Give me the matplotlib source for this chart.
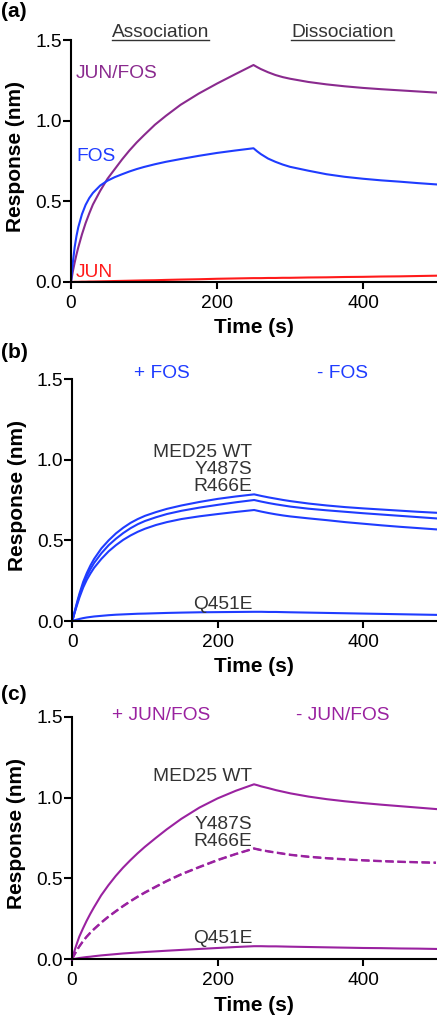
import matplotlib
matplotlib.use("Agg")
import matplotlib.pyplot as plt
from matplotlib.lines import Line2D

plt.rcParams["font.family"] = ["Liberation Sans", "DejaVu Sans"]

# time points (s)
time_s = [0, 2.5, 5, 7.5, 10, 15, 20, 25, 30, 40, 50, 60, 70, 80, 90, 100, 115, 130,
          150, 175, 200, 225, 250,
          255, 260, 270, 280, 290, 300, 325, 350, 375, 400, 425, 450, 475, 500]

# (a) analytes on MED25
jun_fos = [0, 0.065, 0.12, 0.17, 0.215, 0.295, 0.365, 0.425, 0.48, 0.565, 0.64, 0.70,
           0.76, 0.815, 0.865, 0.91, 0.975, 1.03, 1.098, 1.168, 1.23, 1.288, 1.345,
           1.332, 1.32, 1.30, 1.283, 1.27, 1.26, 1.24, 1.225, 1.213, 1.203, 1.195, 1.188,
           1.181, 1.174]
fos = [0, 0.12, 0.215, 0.285, 0.34, 0.42, 0.478, 0.52, 0.552, 0.598, 0.628, 0.65,
       0.668, 0.685, 0.70, 0.713, 0.73, 0.745, 0.762, 0.782, 0.80, 0.815, 0.829,
       0.81, 0.793, 0.765, 0.745, 0.728, 0.714, 0.69, 0.668, 0.652, 0.64, 0.63, 0.622,
       0.613, 0.605]
jun = [0, 0, 0.001, 0.001, 0.001, 0.002, 0.002, 0.003, 0.003, 0.004, 0.005, 0.006,
       0.007, 0.008, 0.009, 0.01, 0.011, 0.013, 0.015, 0.017, 0.02, 0.022, 0.024,
       0.024, 0.024, 0.025, 0.025, 0.026, 0.026, 0.028, 0.029, 0.031, 0.032, 0.034, 0.035,
       0.037, 0.039]

# (b) FOS on MED25 variants
b_wt = [0, 0.046, 0.09, 0.132, 0.172, 0.243, 0.298, 0.345, 0.385, 0.45, 0.50, 0.543,
        0.578, 0.608, 0.632, 0.652, 0.675, 0.695, 0.716, 0.738, 0.757, 0.772, 0.785,
        0.78, 0.775, 0.766, 0.758, 0.75, 0.743, 0.728, 0.716, 0.706, 0.698, 0.691, 0.684,
        0.677, 0.671]
b_y487s = [0, 0.043, 0.084, 0.123, 0.161, 0.227, 0.279, 0.322, 0.36, 0.42, 0.47, 0.51,
           0.545, 0.575, 0.60, 0.62, 0.643, 0.663, 0.683, 0.703, 0.72, 0.736, 0.75,
           0.745, 0.74, 0.731, 0.723, 0.716, 0.709, 0.696, 0.686, 0.677, 0.668, 0.66, 0.652,
           0.644, 0.636]
b_r466e = [0, 0.04, 0.077, 0.113, 0.148, 0.208, 0.256, 0.295, 0.33, 0.385, 0.432, 0.47,
           0.503, 0.53, 0.553, 0.572, 0.595, 0.613, 0.632, 0.649, 0.663, 0.676, 0.688,
           0.683, 0.678, 0.669, 0.661, 0.654, 0.648, 0.636, 0.625, 0.613, 0.603, 0.593, 0.584,
           0.576, 0.568]
b_q451e = [0, 0.004, 0.007, 0.01, 0.013, 0.018, 0.022, 0.025, 0.028, 0.032, 0.036, 0.039,
           0.041, 0.043, 0.045, 0.046, 0.048, 0.05, 0.052, 0.054, 0.055, 0.056, 0.057,
           0.057, 0.057, 0.056, 0.056, 0.055, 0.054, 0.052, 0.05, 0.048, 0.046, 0.044, 0.042,
           0.04, 0.038]

# (c) JUN/FOS on MED25 variants
c_wt = [0, 0.039, 0.075, 0.108, 0.14, 0.19, 0.237, 0.28, 0.32, 0.395, 0.458, 0.515,
        0.566, 0.612, 0.655, 0.695, 0.75, 0.803, 0.868, 0.938, 0.995, 1.042, 1.082,
        1.076, 1.069, 1.058, 1.046, 1.036, 1.026, 1.006, 0.99, 0.977, 0.966, 0.956, 0.947,
        0.938, 0.929]
c_y487s = [0, 0.022, 0.043, 0.062, 0.08, 0.112, 0.14, 0.165, 0.187, 0.228, 0.265, 0.298,
           0.33, 0.36, 0.388, 0.414, 0.45, 0.485, 0.527, 0.572, 0.615, 0.652, 0.686,
           0.681, 0.676, 0.668, 0.661, 0.654, 0.647, 0.635, 0.626, 0.619, 0.613, 0.608, 0.604,
           0.601, 0.598]
c_r466e = [0, 0.021, 0.041, 0.06, 0.078, 0.11, 0.138, 0.162, 0.184, 0.225, 0.262, 0.295,
           0.327, 0.357, 0.385, 0.411, 0.447, 0.482, 0.524, 0.569, 0.612, 0.65, 0.684,
           0.679, 0.674, 0.666, 0.659, 0.652, 0.645, 0.633, 0.624, 0.617, 0.611, 0.606, 0.602,
           0.599, 0.596]
c_q451e = [0, 0.002, 0.004, 0.006, 0.008, 0.011, 0.014, 0.016, 0.019, 0.024, 0.028, 0.032,
           0.036, 0.039, 0.042, 0.045, 0.049, 0.053, 0.058, 0.064, 0.07, 0.076, 0.081,
           0.081, 0.081, 0.08, 0.08, 0.079, 0.078, 0.076, 0.074, 0.072, 0.07, 0.069, 0.067,
           0.066, 0.064]

purple_a = "#8a2a8e"
purple_c = "#9a22a0"
blue = "#1f3cff"
red = "#ff1a1a"
grey = "#333333"

FS = 13.8
W, H = 437, 1019

fig = plt.figure(figsize=(W / 100, H / 100), dpi=100)


def make_axes(left_px, bottom_px, top_px):
    ax = fig.add_axes([left_px / W, (H - bottom_px) / H, (436 - left_px) / W, (bottom_px - top_px) / H])
    ax.set_xlim(0, 500)
    ax.set_ylim(0, 1.5)
    ax.set_xticks([0, 200, 400])
    ax.set_yticks([0, 0.5, 1.0, 1.5])
    ax.set_yticklabels(["0.0", "0.5", "1.0", "1.5"])
    for side in ["top", "right"]:
        ax.spines[side].set_visible(False)
    for side in ["left", "bottom"]:
        ax.spines[side].set_linewidth(1.5)
    ax.tick_params(axis="x", direction="out", length=5, width=1.5, labelsize=FS, pad=4.5)
    ax.tick_params(axis="y", direction="out", length=5.5, width=1.5, labelsize=FS, pad=1)
    ax.set_xlabel("Time (s)", fontsize=15, fontweight="bold")
    ax.set_ylabel("Response (nm)", fontsize=15, fontweight="bold")
    ax.xaxis.set_label_coords(0.5, -0.15)
    ax.yaxis.set_label_coords(-0.125, 0.52)
    return ax


ax_a = make_axes(71, 282, 40)
ax_b = make_axes(72.3, 621, 379)
ax_c = make_axes(72, 959.3, 716.7)

lw = 1.5
ax_a.plot(time_s, jun_fos, color=purple_a, lw=lw, clip_on=False)
ax_a.plot(time_s, fos, color=blue, lw=lw, clip_on=False)
ax_a.plot(time_s, jun, color=red, lw=lw, clip_on=False)

for series in [b_wt, b_y487s, b_r466e, b_q451e]:
    ax_b.plot(time_s, series, color=blue, lw=lw, clip_on=False)

ax_c.plot(time_s, c_wt, color=purple_c, lw=lw, clip_on=False)
ax_c.plot(time_s, c_y487s, color=purple_c, lw=lw, ls=(0, (4, 1.8)), clip_on=False)
ax_c.plot(time_s, c_r466e, color=purple_c, lw=lw, ls=(0, (4, 1.8)), clip_on=False)
ax_c.plot(time_s, c_q451e, color=purple_c, lw=lw, clip_on=False)

# panel (a) texts
ax_a.text(7, 1.263, "JUN/FOS", color=purple_a, fontsize=FS, va="baseline")
ax_a.text(7, 0.75, "FOS", color=blue, fontsize=FS, va="baseline")
ax_a.text(7, 0.029, "JUN", color=red, fontsize=FS, va="baseline")
phase_a = []
for x, s in [(123, "Association"), (372, "Dissociation")]:
    phase_a.append(ax_a.text(x, 1.517, s, color=grey, fontsize=FS, ha="center",
                             va="baseline", clip_on=False))

# panel (b) texts
ax_b.text(123, 1.508, "+ FOS", color=blue, fontsize=FS, ha="center", va="baseline")
ax_b.text(372, 1.508, "- FOS", color=blue, fontsize=FS, ha="center", va="baseline")
for y, s in [(1.019, "MED25 WT"), (0.911, "Y487S"), (0.808, "R466E"), (0.072, "Q451E")]:
    ax_b.text(247.5, y, s, color=grey, fontsize=FS, ha="right", va="baseline")

# panel (c) texts
ax_c.text(123, 1.48, "+ JUN/FOS", color=purple_c, fontsize=FS, ha="center", va="baseline")
ax_c.text(372, 1.48, "- JUN/FOS", color=purple_c, fontsize=FS, ha="center", va="baseline")
for y, s in [(1.103, "MED25 WT"), (0.804, "Y487S"), (0.70, "R466E"), (0.103, "Q451E")]:
    ax_c.text(248, y, s, color=grey, fontsize=FS, ha="right", va="baseline")

# panel letters
for y_px, s in [(17, "(a)"), (358, "(b)"), (700, "(c)")]:
    fig.text(1 / W, (H - y_px) / H, s, fontsize=15, fontweight="bold", va="baseline")

# underline Association / Dissociation
renderer = fig.canvas.get_renderer()
for t in phase_a:
    bb = t.get_window_extent(renderer)
    y_line = H - 39.5
    fig.add_artist(Line2D([bb.x0 / W, bb.x1 / W], [y_line / H, y_line / H],
                          transform=fig.transFigure, color=grey, lw=1.0))

fig.savefig("out.png", dpi=100)
